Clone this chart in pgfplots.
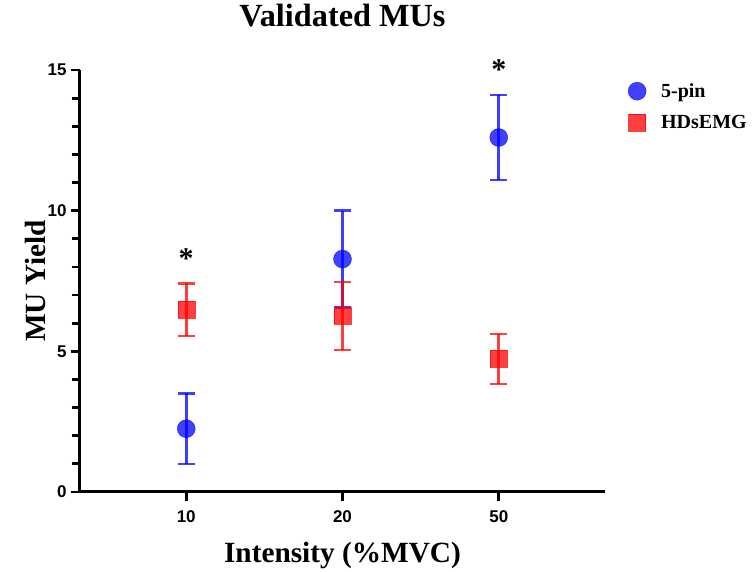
\documentclass[border=0pt]{standalone}
\usepackage{pgfplots}
\pgfplotsset{compat=1.18}
\usepackage{fontspec}
\setmainfont{Liberation Serif}
\newfontfamily\arialfont{Liberation Sans}
\definecolor{pinblue}{RGB}{0,0,255}
\definecolor{hdred}{RGB}{255,0,0}
\begin{document}
\begin{tikzpicture}[x=1pt,y=1pt]
\path (-80,-79) rectangle (672,492);
\begin{axis}[
  at={(0,0)}, anchor=south west,
  scale only axis, width=525pt, height=422pt,
  xmin=-0.68, xmax=2.68, ymin=0, ymax=15,
  axis x line*=bottom, axis y line*=left,
  axis line style={line width=3pt, -},
  xtick={0,1,2}, xticklabels={10,20,50},
  ytick={0,5,10,15}, minor ytick={1,2,3,4,6,7,8,9,11,12,13,14},
  tick style={line width=2.8pt, black},
  major tick length=9pt, minor tick length=8pt,
  tick align=outside,
  ticklabel style={font=\arialfont\bfseries\fontsize{17}{19}\selectfont},
  /pgf/number format/assume math mode=true,
  xticklabel style={yshift=-6pt},
  yticklabel style={xshift=-1pt},
  xlabel={Intensity (\%MVC)}, ylabel={MU Yield},
  label style={font=\bfseries\fontsize{29.3}{32}\selectfont},
  xlabel style={at={(axis description cs:0.5,0)}, anchor=center, yshift=-63pt},
  ylabel style={at={(axis description cs:0,0.5)}, anchor=center, yshift=45pt},
  title={Validated MUs},
  title style={font=\bfseries\fontsize{32.3}{34}\selectfont, at={(axis description cs:0.5,1)}, anchor=center, yshift=48pt},
  clip=false,
  legend style={at={(1.038,0.978)}, anchor=north west, draw=none, fill=none,
    font=\bfseries\fontsize{20}{22}\selectfont, row sep=12pt},
  legend cell align=left,
]
\addplot[only marks, mark=*, mark size=9pt, draw=pinblue, fill=pinblue, opacity=0.75,
  error bars/.cd, y dir=both, y explicit,
  error bar style={line width=2.6pt, pinblue},
  error mark options={rotate=90, mark size=8.5pt, line width=2.6pt, pinblue}]
  coordinates {
  (0,2.25) +- (0,1.26)
  (1,8.28) +- (0,1.72)
  (2,12.60) +- (0,1.51)
};
\addlegendentry{\hspace{13pt}5-pin}
\addplot[only marks, mark=square*, mark size=8.5pt, draw=hdred, fill=hdred, opacity=0.75,
  error bars/.cd, y dir=both, y explicit,
  error bar style={line width=2.6pt, hdred},
  error mark options={rotate=90, mark size=8.5pt, line width=2.6pt, hdred}]
  coordinates {
  (0,6.48) +- (0,0.94)
  (1,6.26) +- (0,1.21)
  (2,4.73) +- (0,0.89)
};
\addlegendentry{\hspace{13pt}HDsEMG}
\node[font=\bfseries\fontsize{30}{32}\selectfont] at (axis cs:0,8.3) {*};
\node[font=\bfseries\fontsize{30}{32}\selectfont] at (axis cs:2,15.0) {*};
\end{axis}
\end{tikzpicture}
\end{document}
